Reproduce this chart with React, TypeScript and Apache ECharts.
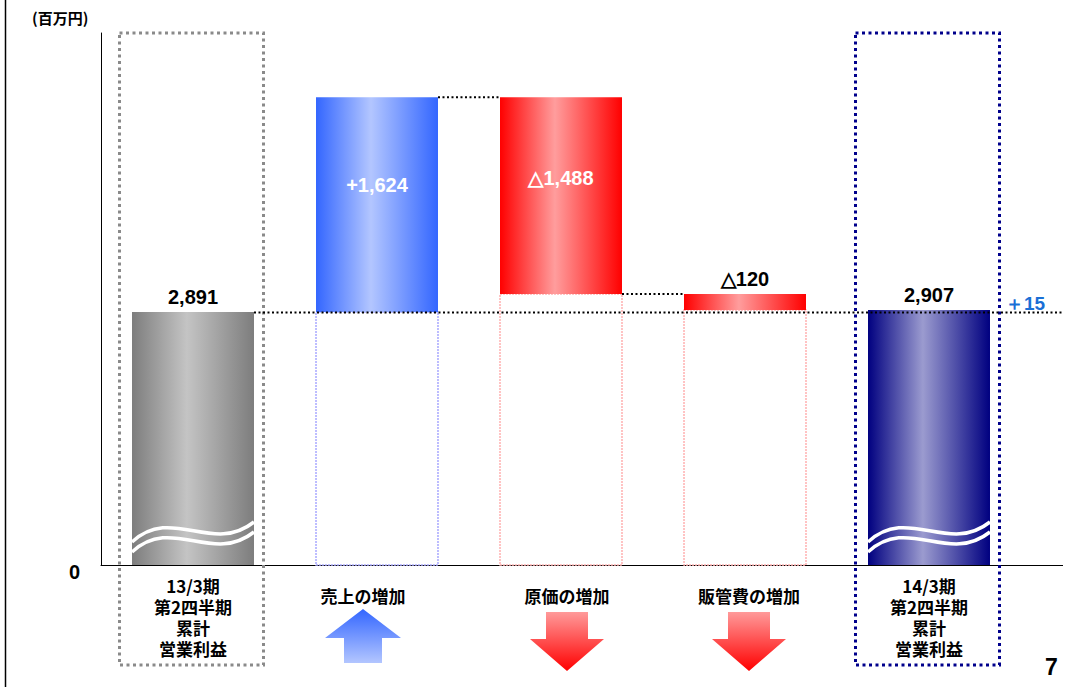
import React, { useEffect, useRef } from 'react';
import * as echarts from 'echarts';

// ---- data ----
const categories = [
  '13/3期\n第2四半期\n累計\n営業利益',
  '売上の増加',
  '原価の増加',
  '販管費の増加',
  '14/3期\n第2四半期\n累計\n営業利益',
];
const kinds = ['total', 'up', 'down', 'down', 'total'];
const amounts = [2891, 1624, 1488, 120, 2907];
const valueLabels = ['2,891', '+1,624', '△1,488', '△120', '2,907'];
const differenceLabel = '＋15';
const unitLabel = '(百万円)';
const zeroLabel = '0';
const pageNumber = '7';

// broken value axis: the visible part starts at this value (shown as 0)
const axisFloor = 980;
const axisCeil = 5000;

// horizontal nudges of the category captions / arrows (layout only)
const captionNudge = [0, -14, 6, 4, 0];

const NUM_FONT = '"Liberation Sans", Arial, sans-serif';
const JP_FONT = '"Noto Sans CJK JP", sans-serif';

function buildRanges() {
  let running = 0;
  return amounts.map((a, i) => {
    if (kinds[i] === 'total') {
      running = a;
      return [0, a];
    }
    const start = running;
    running = kinds[i] === 'up' ? running + a : running - a;
    return [start, running];
  });
}

const hGrad = (edge: string, mid: string) =>
  new echarts.graphic.LinearGradient(0, 0, 1, 0, [
    { offset: 0, color: edge },
    { offset: 0.45, color: mid },
    { offset: 1, color: edge },
  ]);
const vGrad = (top: string, bottom: string) =>
  new echarts.graphic.LinearGradient(0, 0, 0, 1, [
    { offset: 0, color: top },
    { offset: 1, color: bottom },
  ]);

export default function App() {
  const ref = useRef<HTMLDivElement>(null);

  useEffect(() => {
    if (!ref.current) return;
    const chart = echarts.init(ref.current, undefined, { renderer: 'svg' });
    const ranges = buildRanges();
    const data = ranges.map((r, i) => [i, r[0], r[1]]);

    const renderItem = (params: any, api: any) => {
      const i = api.value(0) as number;
      const a = api.value(1) as number;
      const b = api.value(2) as number;
      const cs = params.coordSys;
      const band = api.size([1, 0])[0];
      const w = band * 0.663;
      const basePt = api.coord([i, axisFloor]);
      const cx = basePt[0];
      const baseY = basePt[1];
      const ya = api.coord([i, Math.max(a, axisFloor)])[1];
      const yb = api.coord([i, Math.max(b, axisFloor)])[1];
      const top = Math.min(ya, yb);
      const bottom = Math.max(ya, yb);
      const left = cx - w / 2;
      const right = cx + w / 2;
      const kind = kinds[i];
      const children: any[] = [];
      const dotted = { stroke: '#000', lineWidth: 2, lineDash: [2, 2.5], fill: 'none' };

      if (kind === 'total') {
        const first = i === 0;
        const edge = first ? '#7d7d7d' : '#000080';
        const mid = first ? '#c4c4c4' : '#9b9bcf';
        const frame = first ? '#8a8a8a' : '#00008b';
        children.push({
          type: 'rect',
          shape: { x: cx - 73.5, y: cs.y, width: 144, height: baseY + 100 - cs.y },
          style: { fill: 'none', stroke: frame, lineWidth: 3, lineDash: [3, 3.5] },
          z2: 1,
        });
        children.push({
          type: 'rect',
          shape: { x: left, y: top, width: w, height: bottom - top },
          style: { fill: hGrad(edge, mid) },
          z2: 2,
        });
        for (const off of [0, 10]) {
          children.push({
            type: 'bezierCurve',
            shape: {
              x1: left, y1: baseY - 23 + off,
              cpx1: left + 40, cpy1: baseY - 60 + off,
              cpx2: left + 80, cpy2: baseY - 10 + off,
              x2: right, y2: baseY - 43 + off,
            },
            style: { stroke: '#fff', lineWidth: 3.5, fill: 'none' },
            z2: 3,
          });
        }
        children.push({
          type: 'text',
          style: {
            text: valueLabels[i], x: cx, y: top - 15, align: 'center', verticalAlign: 'middle',
            fill: '#000', fontSize: 20, fontWeight: 'bold', fontFamily: NUM_FONT,
          },
          z2: 5,
        });
        if (first) {
          children.push({
            type: 'line',
            shape: { x1: right, y1: top + 0.5, x2: cs.x + cs.width + 42, y2: top + 0.5 },
            style: dotted,
            z2: 20,
          });
        } else {
          children.push({
            type: 'line',
            shape: { x1: cs.x + cs.width - 1, y1: baseY + 0.5, x2: cs.x + cs.width + 42, y2: baseY + 0.5 },
            style: { stroke: '#000', lineWidth: 1 },
            z2: 1,
          });
          const refY = api.coord([0, amounts[0]])[1];
          children.push({
            type: 'text',
            style: {
              text: differenceLabel, x: cx + 76, y: refY - 9, align: 'left', verticalAlign: 'middle',
              fill: '#1a6fd6', fontSize: 19, fontWeight: 'bold', fontFamily: NUM_FONT,
            },
            z2: 5,
          });
        }
      } else {
        const up = kind === 'up';
        const edge = up ? '#3366ff' : '#ff0000';
        const mid = up ? '#b3c6ff' : '#ff9d9d';
        const outline = up ? '#a8a8ff' : '#ffb0b0';
        children.push({
          type: 'rect',
          shape: { x: left, y: bottom, width: w, height: baseY - bottom },
          style: { fill: 'none', stroke: outline, lineWidth: 1.5, lineDash: [2, 1] },
          z2: 1,
        });
        children.push({
          type: 'rect',
          shape: { x: left, y: top, width: w, height: bottom - top },
          style: { fill: hGrad(edge, mid) },
          z2: 2,
        });
        const h = bottom - top;
        const inside = h > 40;
        children.push({
          type: 'text',
          style: {
            text: valueLabels[i], x: cx, y: inside ? top + 0.41 * h : top - 15,
            align: 'center', verticalAlign: 'middle',
            fill: inside ? '#fff' : '#000', fontSize: 20, fontWeight: 'bold', fontFamily: NUM_FONT,
          },
          z2: 5,
        });
        if (i + 1 < kinds.length && kinds[i + 1] !== 'total') {
          children.push({
            type: 'line',
            shape: { x1: right, y1: yb, x2: right + (band - w), y2: yb },
            style: dotted,
            z2: 20,
          });
        }
        const ax = cx + captionNudge[i];
        const pts = up
          ? [[0, 44], [38, 73], [19, 73], [19, 98], [-19, 98], [-19, 73], [-38, 73]]
          : [[-21, 47], [21, 47], [21, 74], [37, 74], [0, 106], [-37, 74], [-21, 74]];
        children.push({
          type: 'polygon',
          shape: { points: pts.map((p) => [ax + p[0], baseY + p[1]]) },
          style: { fill: up ? vGrad('#3366ff', '#b3c6ff') : vGrad('#ff9a9a', '#ff0000') },
          z2: 2,
        });
      }
      return { type: 'group', children };
    };

    const captionStyle = (nudge: number) => ({
      fontSize: 17,
      fontWeight: 'bold',
      fontFamily: JP_FONT,
      color: '#000',
      lineHeight: 21,
      padding: [20, nudge < 0 ? -2 * nudge : 0, 0, nudge > 0 ? 2 * nudge : 0],
    });

    chart.setOption({
      animation: false,
      grid: { left: 101, top: 33, width: 920, height: 532, containLabel: false },
      xAxis: {
        type: 'category',
        data: categories,
        axisLine: { show: true, lineStyle: { color: '#000', width: 1 } },
        axisTick: { show: false },
        axisLabel: {
          interval: 0,
          margin: 10,
          fontSize: 17,
          fontWeight: 'bold',
          fontFamily: JP_FONT,
          color: '#000',
          lineHeight: 21,
          formatter: (v: string, idx: number) => (kinds[idx] === 'total' ? v : `{c${idx}|${v}}`),
          rich: {
            c1: captionStyle(captionNudge[1]),
            c2: captionStyle(captionNudge[2]),
            c3: captionStyle(captionNudge[3]),
          },
        },
        splitLine: { show: false },
      },
      yAxis: {
        type: 'value',
        min: axisFloor,
        max: axisCeil,
        axisLine: { show: true, lineStyle: { color: '#000', width: 1 } },
        axisTick: { show: false },
        splitLine: { show: false },
        axisLabel: {
          showMinLabel: true,
          margin: 21,
          fontSize: 20,
          fontWeight: 'bold',
          fontFamily: NUM_FONT,
          color: '#000',
          verticalAlign: 'top',
          lineHeight: 14,
          formatter: (v: number) => (v === axisFloor ? zeroLabel : ''),
        },
      },
      series: [
        {
          type: 'custom',
          clip: false,
          renderItem,
          encode: { x: 0, y: [1, 2] },
          data,
        },
      ],
      graphic: [
        { type: 'line', shape: { x1: 5.5, y1: 0, x2: 5.5, y2: 687 }, style: { stroke: '#000', lineWidth: 1.5 } },
        {
          type: 'text', left: 32, top: 10,
          style: { text: unitLabel, fontSize: 15, fontWeight: 'bold', fontFamily: JP_FONT, fill: '#000' },
        },
        {
          type: 'text', left: 1045, top: 655,
          style: { text: pageNumber, fontSize: 23, fontWeight: 'bold', fontFamily: NUM_FONT, fill: '#000' },
        },
      ],
    });
    return () => chart.dispose();
  }, []);

  return <div ref={ref} style={{ position: 'absolute', left: 0, top: 0, width: 1074, height: 687 }} />;
}
